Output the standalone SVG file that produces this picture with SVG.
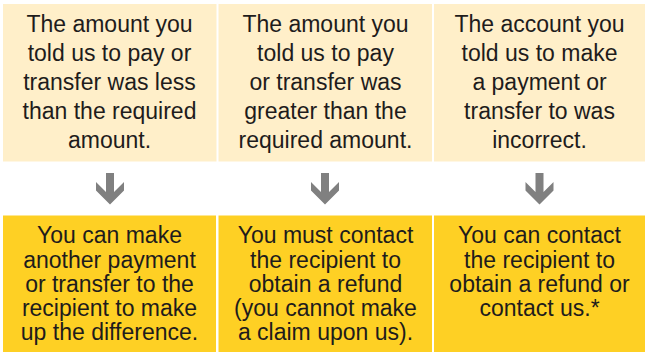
<svg xmlns="http://www.w3.org/2000/svg" xmlns:xlink="http://www.w3.org/1999/xlink" width="648" height="353" viewBox="0 0 648 353">
<style>
.top{fill:#FFEFC9}
.bot{fill:#FED024}
text{font-family:"Liberation Sans",Arial,Helvetica,sans-serif;font-size:23px;fill:#1E1C1C;text-anchor:middle}
.arrow{fill:#808080}
</style>
<defs>
<path id="arr" d="M-4,173 L4,173 L4,192 L14,182 L14,190.5 L0,204.5 L-14,190.5 L-14,182 L-4,192 Z"/>
</defs>
<rect width="648" height="353" fill="#FFFFFF"/>
<g id="cond1">
<rect class="top" x="3" y="4" width="213.5" height="157.5"/>
<text x="109.5" y="31.5">The amount you</text>
<text x="109.5" y="60.5">told us to pay or</text>
<text x="109.5" y="90">transfer was less</text>
<text x="109.5" y="119">than the required</text>
<text x="109.5" y="148">amount.</text>
</g>
<g id="cond2">
<rect class="top" x="218.5" y="4" width="213.5" height="157.5"/>
<text x="325.5" y="31.5">The amount you</text>
<text x="325.5" y="60.5">told us to pay</text>
<text x="325.5" y="90">or transfer was</text>
<text x="325.5" y="119">greater than the</text>
<text x="325.5" y="148">required amount.</text>
</g>
<g id="cond3">
<rect class="top" x="434" y="4" width="211" height="157.5"/>
<text x="539.5" y="31.5">The account you</text>
<text x="539.5" y="60.5">told us to make</text>
<text x="539.5" y="90">a payment or</text>
<text x="539.5" y="119">transfer to was</text>
<text x="539.5" y="148">incorrect.</text>
</g>
<g id="res1">
<rect class="bot" x="3" y="215.5" width="213" height="136.5"/>
<text x="109.5" y="243.3">You can make</text>
<text x="109.5" y="267.5">another payment</text>
<text x="109.5" y="291.7">or transfer to the</text>
<text x="109.5" y="316">recipient to make</text>
<text x="109.5" y="340">up the difference.</text>
</g>
<g id="res2">
<rect class="bot" x="218.5" y="215.5" width="213.5" height="136.5"/>
<text x="325.5" y="243.3">You must contact</text>
<text x="325.5" y="267.5">the recipient to</text>
<text x="325.5" y="291.7">obtain a refund</text>
<text x="325.5" y="316">(you cannot make</text>
<text x="325.5" y="340">a claim upon us).</text>
</g>
<g id="res3">
<rect class="bot" x="434" y="215.5" width="211" height="136.5"/>
<text x="539.5" y="243.3">You can contact</text>
<text x="539.5" y="267.5">the recipient to</text>
<text x="539.5" y="291.7">obtain a refund or</text>
<text x="539.5" y="316">contact us.*</text>
</g>
<g id="connectors">
<use xlink:href="#arr" href="#arr" class="arrow" transform="translate(110,0)"/>
<use xlink:href="#arr" href="#arr" class="arrow" transform="translate(325,0)"/>
<use xlink:href="#arr" href="#arr" class="arrow" transform="translate(539.5,0)"/>
</g>
</svg>
